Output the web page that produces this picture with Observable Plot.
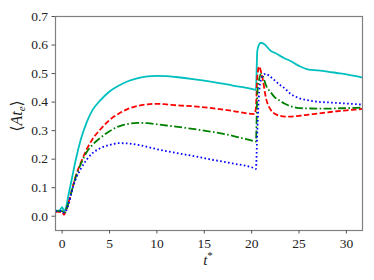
<!DOCTYPE html>
<html><head><meta charset="utf-8">
<script src="https://cdn.jsdelivr.net/npm/d3@7"></script>
<script src="https://cdn.jsdelivr.net/npm/@observablehq/plot@0.6"></script>
<style>body{margin:0;background:#fff} svg{display:block} svg text{font-family:'Liberation Serif','DejaVu Serif',serif !important}</style>
</head><body><div id="chart"></div>
<script>
const tStar = [-0.7, -0.3, 0, 0.2, 0.4, 0.7, 1.0, 1.4, 2, 2.6, 3.2, 4, 5, 6, 7, 8, 9, 10, 11, 12, 14, 16, 18, 20.3, 20.45, 20.6, 20.8, 21.0, 21.2, 21.5, 22, 22.5, 23, 23.5, 24, 25, 26, 27, 28, 29, 30, 31, 31.7];
const cyanSeries = [0.02, 0.02, 0.032, 0.018, 0.03, 0.08, 0.127, 0.192, 0.272, 0.33, 0.372, 0.405, 0.437, 0.458, 0.474, 0.484, 0.49, 0.492, 0.491, 0.488, 0.48, 0.47, 0.458, 0.444, 0.443, 0.58, 0.603, 0.608, 0.606, 0.598, 0.58, 0.572, 0.562, 0.553, 0.546, 0.527, 0.514, 0.511, 0.507, 0.502, 0.497, 0.491, 0.486];
const redSeries = [0.015, 0.015, 0.015, 0.005, 0.02, 0.05, 0.088, 0.137, 0.19, 0.235, 0.27, 0.303, 0.337, 0.36, 0.377, 0.387, 0.392, 0.394, 0.392, 0.389, 0.385, 0.378, 0.369, 0.358, 0.38, 0.49, 0.525, 0.505, 0.475, 0.416, 0.374, 0.358, 0.352, 0.349, 0.349, 0.352, 0.356, 0.36, 0.364, 0.368, 0.371, 0.374, 0.376];
const greenSeries = [0.018, 0.018, 0.018, 0.01, 0.02, 0.05, 0.087, 0.134, 0.185, 0.225, 0.25, 0.274, 0.298, 0.315, 0.324, 0.327, 0.326, 0.322, 0.318, 0.314, 0.305, 0.295, 0.282, 0.263, 0.262, 0.43, 0.48, 0.499, 0.49, 0.46, 0.435, 0.415, 0.405, 0.394, 0.387, 0.379, 0.378, 0.377, 0.377, 0.378, 0.379, 0.38, 0.381];
const blueSeries = [0.018, 0.018, 0.018, 0.012, 0.018, 0.045, 0.085, 0.127, 0.168, 0.199, 0.221, 0.238, 0.25, 0.256, 0.255, 0.25, 0.243, 0.235, 0.228, 0.222, 0.21, 0.197, 0.185, 0.168, 0.166, 0.3, 0.438, 0.48, 0.494, 0.499, 0.488, 0.474, 0.46, 0.448, 0.432, 0.414, 0.406, 0.401, 0.399, 0.397, 0.395, 0.393, 0.391];
const xTicks = [0, 5, 10, 15, 20, 25, 30];
const yTicks = [0, 0.1, 0.2, 0.3, 0.4, 0.5, 0.6, 0.7];

const series = [
  {name: "cyan", values: cyanSeries, color: "#00bfbf", dash: null},
  {name: "red", values: redSeries, color: "#ff0000", dash: "5.5,2.4"},
  {name: "green", values: greenSeries, color: "#008000", dash: "8,2.4,1.6,2.4"},
  {name: "blue", values: blueSeries, color: "#0000ff", dash: "1.6,2.4"}
];
const rows = series.flatMap(s => tStar.map((t, i) => ({t, v: s.values[i], name: s.name})));

const chart = Plot.plot({
  width: 374, height: 280,
  marginLeft: 55, marginRight: 12, marginTop: 16, marginBottom: 50,
  style: {fontFamily: "'Liberation Serif', serif", fontSize: "13.5px", color: "#222", background: "#fff"},
  x: {domain: [-0.7, 31.7]},
  y: {domain: [-0.05, 0.7]},
  marks: [
    ...series.map(s => Plot.line(rows.filter(r => r.name === s.name), {
      x: "t", y: "v", stroke: s.color, strokeWidth: 1.8,
      strokeDasharray: s.dash, strokeLinecap: "butt", curve: "monotone-x"
    })),
    Plot.frame({stroke: "#808080", strokeWidth: 1.2}),
    Plot.axisX({ticks: xTicks, tickSize: 3.5, tickPadding: 4, label: null, stroke: "#555", fill: "#222", fontSize: 13.5, fontFamily: "Liberation Serif"}),
    Plot.axisY({ticks: yTicks, tickFormat: d3.format(".1f"), tickSize: 3.5, tickPadding: 4, label: null, stroke: "#555", fill: "#222", fontSize: 13.5, fontFamily: "Liberation Serif"})
  ]
});
document.getElementById("chart").appendChild(chart);

const svg = d3.select(chart);
const xl = svg.append("text").attr("x", 208).attr("y", 265)
  .attr("text-anchor", "middle")
  .attr("font-size", 15).attr("fill", "#222");
xl.append("tspan").attr("font-style", "italic").text("t");
xl.append("tspan").attr("dy", -6).attr("font-size", 11).text("*");

const yl = svg.append("text").attr("transform", "translate(22,116) rotate(-90)")
  .attr("text-anchor", "middle")
  .attr("font-size", 16).attr("fill", "#222");
yl.append("tspan").text("⟨");
yl.append("tspan").attr("font-style", "italic").text("At");
yl.append("tspan").attr("font-style", "italic").attr("font-size", 11).attr("dy", 3).text("e");
yl.append("tspan").attr("dy", -3).text("⟩");
</script>
</body></html>
